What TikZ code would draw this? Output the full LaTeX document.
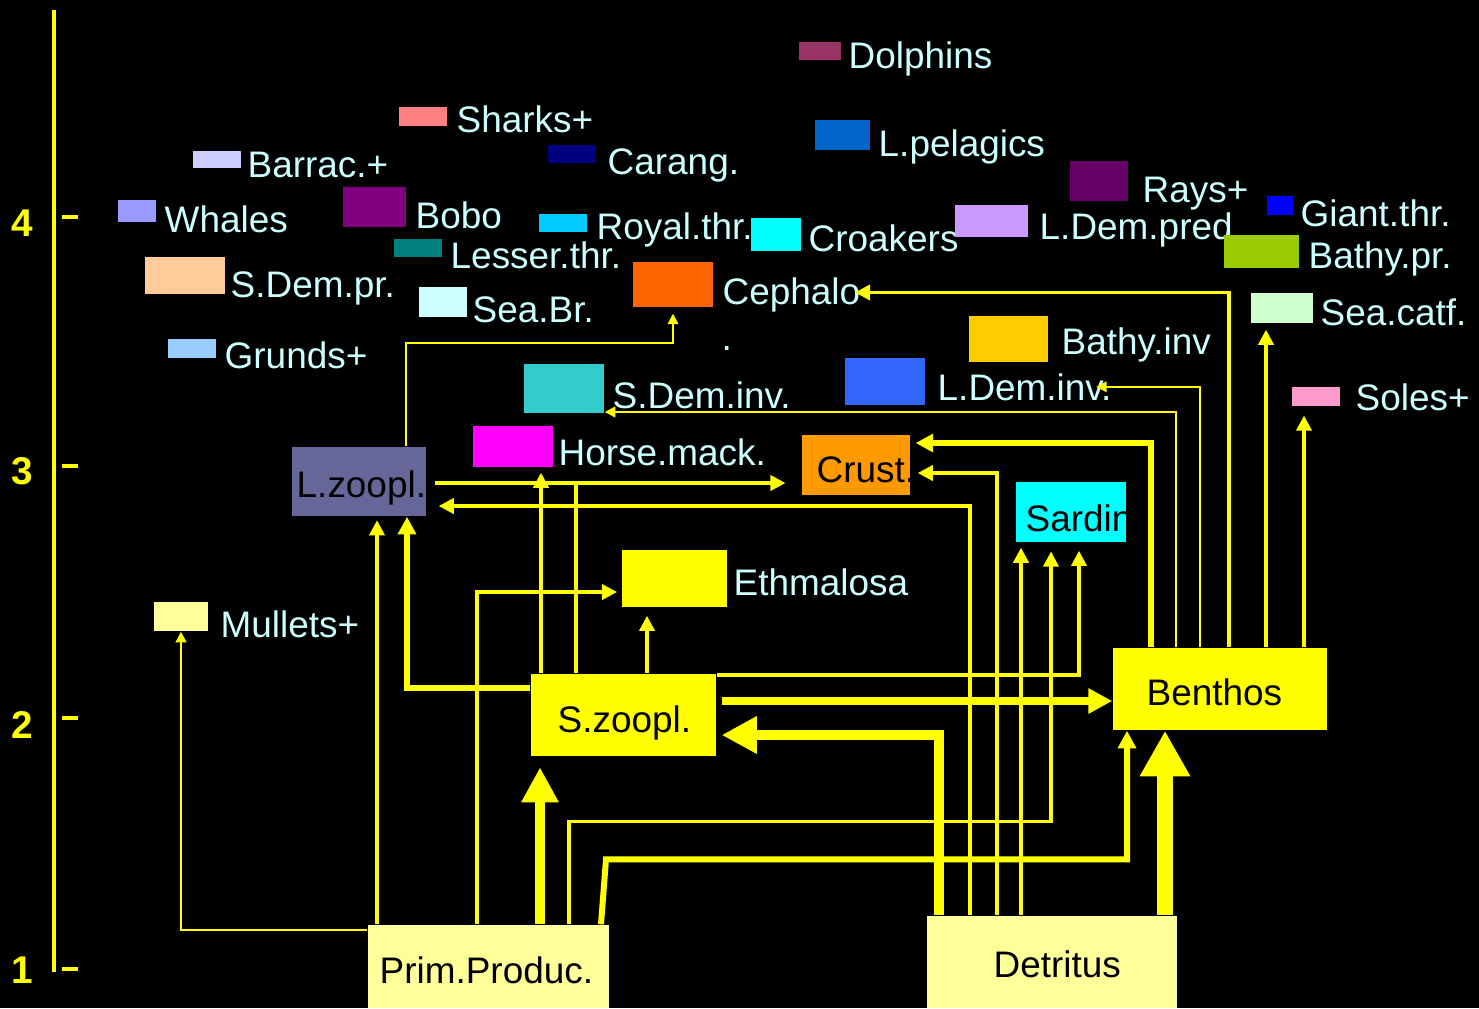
\documentclass[tikz,border=0pt]{standalone}
\usepackage{fontspec}
\setmainfont{Liberation Sans}
\usetikzlibrary{arrows.meta,calc,fit,positioning}
\definecolor{flowyellow}{HTML}{FFFF00}
\definecolor{labelcyan}{HTML}{CCFFFF}
\definecolor{paleyellow}{HTML}{FFFF99}
\definecolor{cdolph}{HTML}{993366}
\definecolor{cshark}{HTML}{FF8080}
\definecolor{cbarrac}{HTML}{CCCCFF}
\definecolor{cwhale}{HTML}{9999FF}
\definecolor{cbobo}{HTML}{800080}
\definecolor{clesser}{HTML}{008080}
\definecolor{csdempr}{HTML}{FFCC99}
\definecolor{cseabr}{HTML}{CCFFFF}
\definecolor{cgrund}{HTML}{99CCFF}
\definecolor{ccarang}{HTML}{000080}
\definecolor{clpelag}{HTML}{0066CC}
\definecolor{croyal}{HTML}{00CCFF}
\definecolor{ccroak}{HTML}{00FFFF}
\definecolor{cceph}{HTML}{FF6600}
\definecolor{csdinv}{HTML}{33CCCC}
\definecolor{cldinv}{HTML}{3366FF}
\definecolor{cbathinv}{HTML}{FFCC00}
\definecolor{cldpred}{HTML}{CC99FF}
\definecolor{crays}{HTML}{660066}
\definecolor{cgiant}{HTML}{0000FF}
\definecolor{cbathpr}{HTML}{99CC00}
\definecolor{cseacatf}{HTML}{CCFFCC}
\definecolor{csoles}{HTML}{FF99CC}
\definecolor{chmack}{HTML}{FF00FF}
\definecolor{cmull}{HTML}{FFFF99}
\definecolor{clzoo}{HTML}{666699}
\definecolor{ccrust}{HTML}{FF9900}
\definecolor{csard}{HTML}{00FFFF}

\tikzset{
  swatch/.style={fill=#1,draw=none,inner sep=0pt},
  lbl/.style={font=\fontsize{10.5}{12}\selectfont,text=labelcyan,inner sep=0pt,anchor=base west},
  boxtext/.style={font=\fontsize{10.5}{12}\selectfont,text=black,inner sep=0pt,anchor=base west},
  flowline/.style={draw=flowyellow,line width=1pt},
  flowthin/.style={flowline,line width=0.6pt,-{Triangle[length=3pt,width=3pt]}},
  flowmid/.style={flowline,-{Triangle[length=4.3pt,width=4.3pt]}},
  flowthick/.style={flowline,line width=1.7pt,-{Triangle[length=5pt,width=5pt]}},
  flowbold/.style={flowline,line width=2.1pt,-{Triangle[length=6.8pt,width=6.8pt]}},
  flowheavy/.style={flowline,line width=3.1pt,-{Triangle[length=10pt,width=10pt]}},
  flowmassive/.style={flowline,line width=4.5pt,-{Triangle[length=13pt,width=13.5pt]}}
}

\begin{document}
\begin{tikzpicture}[x=0.01cm,y=-0.01cm]
  \path[use as bounding box,fill=black] (0,0) rectangle (1479,1008);

  % trophic level axis
  \draw[flowyellow,line width=1.1pt] (54,10) -- (54,972);
  \foreach \y/\b/\lev in {217/236/4,466/484/3,718/738/2,969/983/1} {
    \draw[flowyellow,line width=1.4pt] (62,\y) -- (78,\y);
    \node[font=\fontsize{11}{12}\selectfont\bfseries,text=flowyellow,inner sep=0pt,anchor=base] (lev\lev) at (22,\b) {\lev};
  }

  % groups: swatch and name
  \foreach \nm/\xa/\ya/\xb/\yb/\tx/\ty/\lab in {
      dolph/799/42/841/60/848/68/Dolphins,
      shark/399/107/447/126/456/132/Sharks+,
      barrac/193/151/241/168/247/177/Barrac.+,
      whale/118/200/156/222/164/232/Whales,
      bobo/343/187/406/227/415/228/Bobo,
      lesser/394/239/442/257/450/268/Lesser.thr.,
      sdempr/145/257/225/294/230/297/S.Dem.pr.,
      seabr/419/287/467/317/472/322/Sea.Br.,
      grund/168/339/216/358/224/368/Grunds+,
      carang/548/145/596/163/607/174/Carang.,
      lpelag/815/120/870/150/878/156/L.pelagics,
      royal/539/214/587/232/596/239/Royal.thr.,
      croak/751/218/801/251/808/251/Croakers,
      ceph/633/262/713/307/722/304/Cephalo,
      sdinv/524/364/604/413/612/408/S.Dem.inv.,
      ldinv/845/358/925/405/937/400/L.Dem.inv.,
      bathinv/969/316/1048/362/1061/354/Bathy.inv,
      ldpred/955/205/1028/237/1039/239/L.Dem.pred,
      rays/1070/161/1128/201/1142/202/Rays+,
      giant/1267/196/1293/215/1300/226/Giant.thr.,
      bathpr/1224/235/1299/268/1308/268/Bathy.pr.,
      seacatf/1251/293/1313/323/1320/325/Sea.catf.,
      soles/1292/387/1340/406/1355/410/Soles+,
      hmack/473/426/553/467/558/465/Horse.mack.,
      mull/154/602/208/631/220/637/Mullets+} {
    \node[swatch=c\nm,fit={(\xa,\ya)(\xb,\yb)}] (\nm) {};
    \node[lbl] (\nm-t) at (\tx,\ty) {\lab};
  }
  \node[swatch=flowyellow,fit={(622,550)(727,607)}] (ethm) {};
  \node[lbl] (ethm-t) at (733,595) {Ethmalosa};
  \node[lbl] (ceph-dot) at (721,350) {.};

  % compartments with names inside
  \node[swatch=clzoo,fit={(292,447)(426,516)}] (lzoo) {};
  \node[boxtext] (lzoo-t) at (296,497) {L.zoopl.};
  \node[swatch=ccrust,fit={(802,435)(910,495)}] (crust) {};
  \node[boxtext] (crust-t) at (816,482) {Crust.};
  \node[swatch=csard,fit={(1016,482)(1126,542)}] (sard) {};
  \begin{scope}
    \clip (sard.south west) rectangle (sard.north east);
    \node[boxtext] (sard-t) at (1025,531) {Sardin};
  \end{scope}
  \node[swatch=flowyellow,fit={(531,674)(716,756)}] (szoo) {};
  \node[boxtext] (szoo-t) at (557,732) {S.zoopl.};
  \node[swatch=flowyellow,fit={(1113,648)(1327,730)}] (bent) {};
  \node[boxtext] (bent-t) at (1146,705) {Benthos};
  \node[swatch=paleyellow,fit={(368,925)(609,1008)}] (prim) {};
  \node[boxtext] (prim-t) at (379,983) {Prim.Produc.};
  \node[swatch=paleyellow,fit={(927,916)(1177,1008)}] (detr) {};
  \node[boxtext] (detr-t) at (993,977) {Detritus};
  \coordinate (hmjoin) at (576,484);

  % flows
  \draw[flowthin] (prim.west |- 0,930) -| (mull.south);
  \draw[flowmid,shorten >=1pt] (prim.north -| 377,0) -- (lzoo.south -| 377,0);
  \draw[flowthick] (szoo.west |- 0,688) -| (lzoo.south -| 407,0);
  \draw[flowmid,shorten >=1.2pt] (prim.north -| 477,0) |- (ethm.west |- 0,592);
  \draw[flowmid,shorten >=1.4pt] (szoo.north -| 541,0) -- (hmack.south -| 541,0);
  \draw[flowline] (szoo.north -| 576,0) -- (hmjoin);
  \draw[flowmid,shorten >=2.3pt] (szoo.north -| 647,0) -- (ethm.south -| 647,0);
  \draw[flowmid,shorten <=2.3pt,shorten >=4.5pt] (lzoo.east |- 0,483) -- (crust.west |- 0,483);
  \draw[flowmid,shorten >=3.4pt] (detr.north -| 970,0) |- (lzoo.east |- 0,506);
  \draw[flowmid,shorten >=2pt] (detr.north -| 997,0) |- (crust.east |- 0,473);
  \draw[flowthick,shorten >=1.4pt] (bent.north -| 1151,0) |- (crust.east |- 0,443);
  \draw[flowthin] (bent.north -| 1176,0) |- (sdinv.east |- 0,412);
  \draw[flowthin] (bent.north -| 1200,0) |- ($(ldinv-t.east)+(-16,0)$);
  \draw[flowmid] (bent.north -| 1229,0) |- ($(ceph-t.east)+(-6,-2)$);
  \draw[flowmid,shorten >=1.7pt] (bent.north -| 1266,0) -- (seacatf.south -| 1266,0);
  \draw[flowmid,shorten >=2.5pt] (bent.north -| 1304,0) -- (soles.south -| 1304,0);
  \draw[flowthin,shorten >=1.7pt] (lzoo.north -| 406,0) |- (0,343 -| ceph.south) -- (ceph.south);
  \draw[flowbold,shorten <=1.5pt] (szoo.east |- 0,701) -- (bent.west |- 0,701);
  \draw[flowheavy,shorten >=1.4pt] (detr.north -| 939,0) |- (szoo.east |- 0,735);
  \draw[flowmassive] (detr.north -| 1165,0) -- (bent.south -| 1165,0);
  \draw[flowheavy,shorten >=3pt] (prim.north -| 540,0) -- (szoo.south -| 540,0);
  \draw[flowmid,shorten >=2.5pt] (prim.north -| 569,0) -- ++(0,-103) -| (sard.south -| 1051,0);
  \draw[flowmid,shorten >=1.4pt] (detr.north -| 1021,0) -- (sard.south -| 1021,0);
  \draw[flowmid,shorten >=2.3pt] (szoo.east |- 0,675) -| (sard.south -| 1079,0);
  \draw[flowthick] (prim.north -| 601,0) -- ++(5,-65) -| (bent.south -| 1127,0);
\end{tikzpicture}
\end{document}
